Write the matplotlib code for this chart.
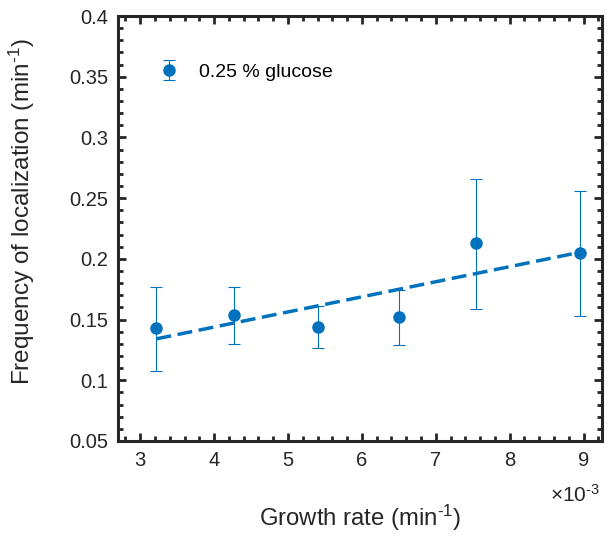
import numpy as np
import matplotlib
matplotlib.use('Agg')
import matplotlib.pyplot as plt
from matplotlib.ticker import MultipleLocator

plt.rcParams['font.family'] = ['Liberation Sans', 'DejaVu Sans']
plt.rcParams['mathtext.fontset'] = 'custom'
plt.rcParams['mathtext.rm'] = 'Liberation Sans'
plt.rcParams['mathtext.it'] = 'Liberation Sans'
plt.rcParams['axes.unicode_minus'] = False

# growth rate (x 10^-3 min^-1) and localisation frequency (min^-1)
growth = np.array([3.22, 4.27, 5.41, 6.50, 7.55, 8.95])
freq = np.array([0.143, 0.154, 0.144, 0.152, 0.213, 0.205])
err_hi = np.array([0.177, 0.177, 0.161, 0.174, 0.266, 0.256])
err_lo = np.array([0.108, 0.130, 0.127, 0.129, 0.159, 0.153])

blue = '#0072BD'
dark = '#262626'

fig = plt.figure(figsize=(6.13, 5.4), dpi=100)
ax = fig.add_axes([118 / 613, 1 - 441 / 540, 484 / 613, 425 / 540])

ax.errorbar(growth, freq, yerr=[freq - err_lo, err_hi - freq], fmt='o',
            color=blue, ms=8, elinewidth=0.8, capsize=4, capthick=0.8,
            label='0.25 % glucose', zorder=3)

# linear fit
k, b = np.polyfit(growth, freq, 1)
ax.plot(growth[[0, -1]], k * growth[[0, -1]] + b, color=blue, lw=2.5,
        ls=(0, (4.3, 1.9)), zorder=2)

ax.set_xlim(2.7, 9.25)
ax.set_ylim(0.05, 0.4)
ax.xaxis.set_major_locator(MultipleLocator(1))
ax.xaxis.set_minor_locator(MultipleLocator(0.2))
ax.yaxis.set_minor_locator(MultipleLocator(0.01))
ax.set_yticks([0.05, 0.1, 0.15, 0.2, 0.25, 0.3, 0.35, 0.4])
ax.set_yticklabels(['0.05', '0.1', '0.15', '0.2', '0.25', '0.3', '0.35', '0.4'])

ax.tick_params(which='both', direction='in', top=True, right=True,
               color=dark, width=2, labelsize=14.5, labelcolor=dark, pad=7)
ax.tick_params(which='major', length=6)
ax.tick_params(which='minor', length=3.5)
for s in ax.spines.values():
    s.set_linewidth(2.2)
    s.set_color(dark)

ax.set_xlabel(r'Growth rate (min$^{\text{-1}}$)', fontsize=17.2, color=dark, labelpad=24)
ax.set_ylabel(r'Frequency of localization (min$^{\text{-1}}$)', fontsize=17.5, color=dark)
ax.yaxis.set_label_coords(-0.168, 0.54)
ax.text(0.995, -0.1, r'$\times$10$^{\text{-3}}$', transform=ax.transAxes, ha='right',
        va='top', fontsize=15, color=dark)

ax.legend(loc='upper left', bbox_to_anchor=(0.05, 0.93), frameon=False,
          fontsize=14, handletextpad=1.0, handlelength=1.0)

fig.savefig('out.png', dpi=100)
